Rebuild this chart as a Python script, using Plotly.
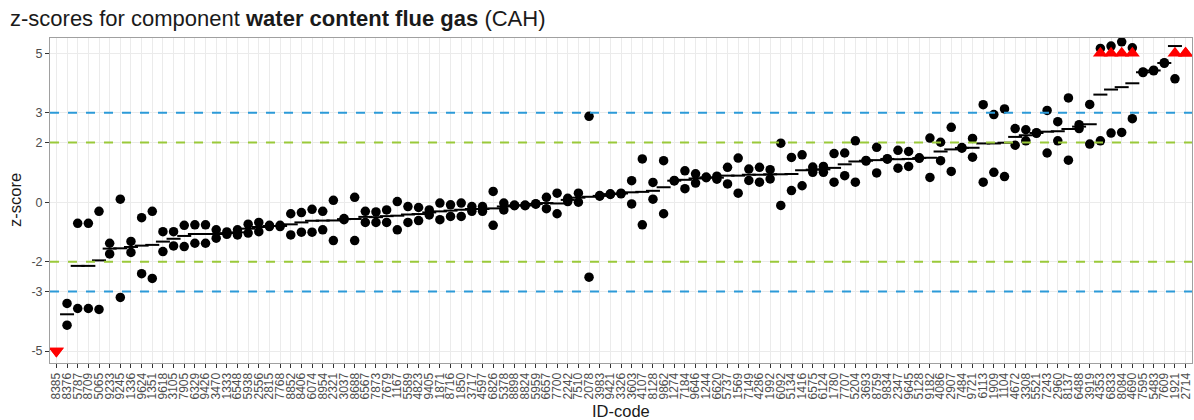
import plotly.graph_objects as go

lab_ids = ["8385", "8376", "5787", "8709", "5065", "9233", "9245", "1336", "9624", "1351",
           "9618", "3105", "7905", "6329", "9426", "3470", "1333", "6548", "5938", "2556",
           "2815", "7768", "8852", "8406", "6074", "8954", "2321", "3037", "8688", "6567",
           "7873", "7679", "1167", "5589", "4823", "9405", "1871", "8716", "1850", "3717",
           "4597", "6826", "5378", "8898", "8824", "5959", "6657", "7700", "2242", "7510",
           "2078", "3983", "9421", "3326", "3603", "4107", "8128", "9862", "1274", "7184",
           "9646", "1244", "6620", "5737", "1569", "7149", "4286", "1992", "6092", "5134",
           "1416", "6575", "6124", "1780", "7707", "5204", "3693", "8759", "9834", "2347",
           "9645", "5128", "9182", "4086", "2907", "7484", "9721", "6113", "1909", "1104",
           "4672", "3308", "5521", "7243", "2960", "8137", "6488", "3919", "4353", "6833",
           "8084", "4690", "7595", "5483", "7609", "1921", "2714"]

z_first = [-6.2, -3.40, -0.71, -0.71, -0.31, -1.38, 0.10, -1.32, -0.52, -0.31,
           -0.99, -0.99, -0.78, -0.76, -0.76, -0.93, -1.00, -0.93, -0.74, -0.68,
           -0.78, -0.78, -0.39, -0.35, -0.24, -0.31, 0.06, -0.55, 0.16, -0.31,
           -0.33, -0.26, 0.02, -0.15, -0.18, -0.26, -0.03, -0.09, -0.03, -0.15,
           -0.15, 0.36, -0.03, -0.10, -0.10, -0.05, 0.16, 0.30, 0.13, 0.30,
           2.88, 0.22, 0.28, 0.30, 0.72, 1.45, 0.66, 1.39, 0.73, 1.05,
           0.95, 0.84, 0.87, 1.17, 1.48, 1.11, 1.17, 1.09, 1.98, 1.50,
           1.59, 1.18, 1.20, 1.63, 1.65, 2.06, 1.40, 1.84, 1.46, 1.74,
           1.70, 1.49, 2.15, 2.01, 2.51, 1.83, 2.14, 3.27, 2.94, 3.13,
           2.47, 2.43, 2.33, 3.08, 2.70, 3.50, 2.60, 3.28, 5.16, 5.24,
           5.38, 5.18, 4.37, 4.43, 4.68, 6.34, 6.6]

z_second = [-6.8, -4.13, -3.57, -3.57, -3.60, -1.74, -3.20, -1.69, -2.40, -2.56,
            -1.66, -1.47, -1.49, -1.38, -1.38, -1.21, -1.08, -1.10, -1.04, -0.99,
            -0.82, -0.82, -1.10, -1.01, -1.01, -0.93, -1.29, -0.59, -1.29, -0.68,
            -0.68, -0.68, -0.93, -0.68, -0.62, -0.43, -0.59, -0.48, -0.48, -0.31,
            -0.31, -0.78, -0.26, -0.12, -0.12, -0.07, -0.22, -0.39, 0.02, 0.00,
            -2.52, 0.20, 0.26, 0.28, -0.06, -0.76, 0.10, -0.39, 0.71, 0.45,
            0.64, 0.82, 0.77, 0.61, 0.30, 0.73, 0.67, 0.78, -0.11, 0.39,
            0.55, 1.00, 1.00, 0.67, 0.89, 0.67, 1.38, 0.98, 1.44, 1.14,
            1.20, 1.47, 0.83, 1.39, 1.03, 1.81, 1.51, 0.67, 1.00, 0.86,
            1.91, 2.06, 2.31, 1.65, 2.06, 1.41, 2.47, 1.95, 2.06, 2.32,
            2.34, 2.80, 4.35, 4.41, 4.66, 4.14, 7.1]

y_ticks = [-5, -3, -2, 0, 2, 3, 5]
limit = 5

means = [(a + b) / 2 for a, b in zip(z_first, z_second)]
all_x = lab_ids + lab_ids
all_z = z_first + z_second
hi_x = [x for x, z in zip(all_x, all_z) if z > limit]
lo_x = [x for x, z in zip(all_x, all_z) if z < -limit]

FONT = "Liberation Sans, Arial, sans-serif"
fig = go.Figure()

# warning / action limits
for yv, col in [(3, "#2C9AD8"), (-3, "#2C9AD8"), (2, "#9AC93A"), (-2, "#9AC93A")]:
    fig.add_hline(y=yv, line=dict(color=col, width=2, dash="9px,9px"), layer="above")

fig.add_trace(go.Scatter(x=lab_ids, y=means, mode="markers",
                         marker=dict(symbol="line-ew", size=10, color="black",
                                     line=dict(color="black", width=2)),
                         showlegend=False, hoverinfo="skip"))
fig.add_trace(go.Scatter(x=all_x, y=all_z, mode="markers",
                         marker=dict(symbol="circle", size=9.5, color="black"),
                         showlegend=False))
fig.add_trace(go.Scatter(x=hi_x, y=[limit] * len(hi_x), mode="markers",
                         marker=dict(symbol="triangle-up", size=13, color="#FF0000"),
                         showlegend=False))
fig.add_trace(go.Scatter(x=lo_x, y=[-limit] * len(lo_x), mode="markers",
                         marker=dict(symbol="triangle-down", size=13, color="#FF0000"),
                         showlegend=False))

fig.update_layout(
    width=1194, height=420,
    margin=dict(l=50, r=2, t=38, b=57),
    paper_bgcolor="white", plot_bgcolor="white",
    font=dict(family=FONT, color="#4D4D4D", size=12),
    xaxis=dict(type="category", categoryorder="array", categoryarray=lab_ids,
               range=[-0.6, len(lab_ids) - 1 + 0.6],
               tickmode="array", tickvals=lab_ids, ticktext=lab_ids,
               tickangle=-90, tickfont=dict(size=12, color="#4D4D4D"),
               showgrid=True, gridcolor="#EBEBEB", gridwidth=1.2,
               ticks="outside", ticklen=4, tickcolor="#333333",
               showline=True, linecolor="#A0A0A0", linewidth=1, mirror=True,
               zeroline=False, automargin=False),
    yaxis=dict(range=[-5.40, 5.51], tickmode="array", tickvals=y_ticks,
               ticktext=[str(v) for v in y_ticks],
               tickfont=dict(size=12.5, color="#4D4D4D"),
               showgrid=True, gridcolor="#EBEBEB", gridwidth=1.2,
               ticks="outside", ticklen=4, tickcolor="#333333",
               showline=True, linecolor="#A0A0A0", linewidth=1, mirror=True,
               zeroline=False, automargin=False),
    annotations=[
        dict(text="z-scores for component <b>water content flue gas</b> (CAH)",
             xref="paper", yref="paper", x=(8 - 50) / 1142, y=(363 - 18) / 325,
             xanchor="left", yanchor="middle", showarrow=False,
             font=dict(size=22, color="#1A1A1A", family=FONT)),
        dict(text="z-score", xref="paper", yref="paper",
             x=(15 - 50) / 1142, y=(363 - 200) / 325, textangle=-90,
             xanchor="center", yanchor="middle", showarrow=False,
             font=dict(size=16.5, color="#1A1A1A", family=FONT)),
        dict(text="ID-code", xref="paper", yref="paper",
             x=0.5, y=(363 - 411) / 325,
             xanchor="center", yanchor="middle", showarrow=False,
             font=dict(size=16.5, color="#1A1A1A", family=FONT)),
    ],
)

fig.write_html("out.html", config={"displayModeBar": False},
               post_script="document.body.style.margin='0px';document.body.style.padding='0px';")
